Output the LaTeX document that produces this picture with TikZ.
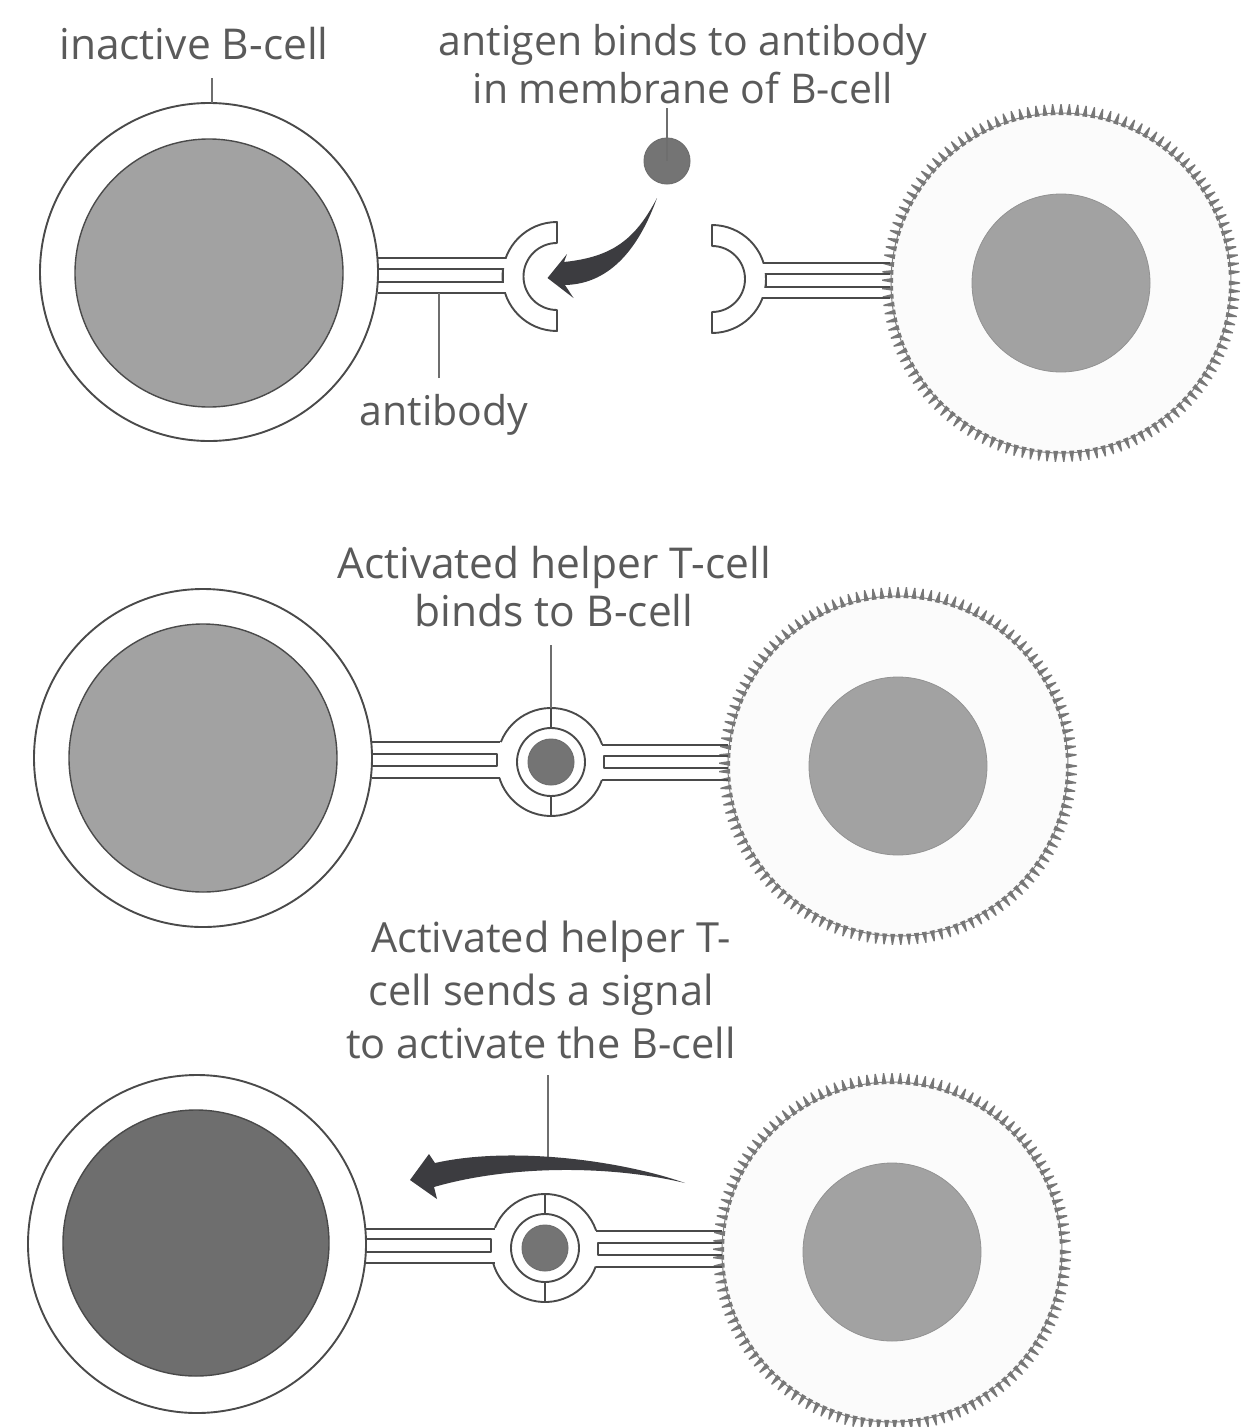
\documentclass[tikz,border=0pt]{standalone}
\usepackage{fontspec}
\setmainfont{Open Sans}
\usetikzlibrary{calc}
\definecolor{ink}{HTML}{4A4A4A}
\definecolor{labelink}{HTML}{5A5A5A}
\definecolor{midgrey}{HTML}{A2A2A2}
\definecolor{darkgrey}{HTML}{6E6E6E}
\definecolor{antigen}{HTML}{747474}
\definecolor{arrowink}{HTML}{3C3C40}
\tikzset{
  wire/.style={draw=ink,line width=1.9pt,line join=round},
  leader/.style={draw=ink!80,line width=1.4pt},
  disc/.style={circle,inner sep=0pt,outer sep=0pt,minimum size=#1},
  bmembrane/.style={disc=338,draw=ink,line width=1.9pt,fill=white},
  bnucleus/.style={disc=268,draw=ink,line width=1.4pt,fill=midgrey},
  anucleus/.style={disc=266,draw=ink,line width=1.4pt,fill=darkgrey},
  tbody/.style={disc=340,draw=ink!70,line width=1pt,fill=black!1.5},
  tnucleus/.style={disc=178,draw=ink!60,line width=.8pt,fill=midgrey},
  antigenball/.style={disc=46,draw=ink!80,line width=1pt,fill=antigen},
  caption/.style={text=labelink,font=\fontsize{41}{48}\selectfont,align=center,inner sep=0pt},
  fatarrow/.style={fill=arrowink,draw=none},
  spike/.style={fill=ink!75,draw=none}
}
% Ring of small surface spikes around a T-cell body
\newcommand{\spikering}[1]{%
  \begin{scope}[shift={(#1.center)}]
    \foreach \a in {0,2.7,...,357.4}{
      \fill[spike] ({\a-0.85}:168) -- ({\a-0.2}:179) -- ({\a+0.2}:179) -- ({\a+0.85}:168) -- cycle;
    }
  \end{scope}}
% Antibody stem: outer rails run from x1 to xo, inner rails from x1 to a closing bar at x2
\newcommand{\stem}[7]{%
  \draw[wire] (#1,#4) -- (#3,#4);
  \draw[wire] (#1,#5) -- (#2,#5) -- (#2,#6) -- (#1,#6);
  \draw[wire] (#1,#7) -- (#3,#7);}
\begin{document}
\begin{tikzpicture}[x=1pt,y=-1pt]
\useasboundingbox[fill=white] (0,0) rectangle (1245,1427);

% --- Top row: antigen approaching the antibody ---
\node[tbody] (t1) at (1061,283) {};
\spikering{t1}
\node[tnucleus] (tn1) at (1061,283) {};
\node[bmembrane] (b1) at (209,272) {};
\node[bnucleus] (bn1) at (209,273) {};
\draw[wire,fill=white] (557,222) arc[start angle=-90,end angle=-270,radius=54.5]
  -- (557,310) arc[start angle=90,end angle=270,radius=33.5] -- cycle;
\fill[white] (497,259.2) rectangle (509,267.8) (497,283.2) rectangle (509,291.8);
\stem{378}{503}{506}{258}{269}{282}{293}
\draw[wire,fill=white] (712,225) arc[start angle=-90,end angle=90,radius=54]
  -- (712,312) arc[start angle=90,end angle=-90,radius=33] -- cycle;
\fill[white] (760,264.2) rectangle (771,272.8) (760,288.2) rectangle (771,296.8);
\stem{890}{766}{763}{263}{274}{287}{298}
\node[caption,font=\fontsize{42.5}{48}\selectfont] (lab1) at (194,44) {inactive B-cell};
\coordinate (lab1foot) at (212,78);
\draw[leader] (lab1foot) -- (lab1foot |- b1.north);
\node[caption] (lab2) at (683,64) {antigen binds to antibody\\in membrane of B-cell};
\node[antigenball] (ag1) at (667,161) {};
\coordinate (lab2foot) at (667,108);
\draw[leader] (lab2foot) -- (ag1.center);
\node[caption] (lab3) at (444,415) {antibody};
\coordinate (lab3foot) at (439,378);
\coordinate (lab3top) at (439,293);
\draw[leader] (lab3foot) -- (lab3top);
\fill[fatarrow] (657,198) .. controls (635,240) and (612,257) .. (564,262)
  -- (567,254) -- (547.5,278) -- (573.5,298) -- (565,285)
  .. controls (612,284) and (640,245) .. (657,198) -- cycle;

% --- Middle row: helper T-cell bound to the B-cell ---
\node[tbody] (t2) at (898,766) {};
\spikering{t2}
\node[tnucleus] (tn2) at (898,766) {};
\node[bmembrane] (b2) at (203,758) {};
\node[bnucleus] (bn2) at (203,758) {};
\coordinate (c2) at (551,762);
\stem{372}{497}{500}{742}{754}{766}{778}
\stem{728}{604}{602}{745}{756}{768}{780}
\draw[wire] ($(c2)+(-158.3:54)$) arc[start angle=-158.3,end angle=-19,radius=54];
\draw[wire] ($(c2)+(19.5:54)$) arc[start angle=19.5,end angle=162.8,radius=54];
\node[disc=68,draw=ink,line width=1.9pt,fill=white] (ring2) at (c2) {};
\node[antigenball] (ag2) at (c2) {};
\draw[wire] (551,708) -- (ring2.north);
\draw[wire] (ring2.south) -- (551,816);
\node[caption,font=\fontsize{42.5}{48}\selectfont] (lab4) at (554,587) {Activated helper T-cell\\binds to B-cell};
\coordinate (lab4foot) at (551,645);
\draw[leader] (lab4foot) -- (551,708);

% --- Bottom row: signal sent to the B-cell ---
\node[tbody] (t3) at (892,1252) {};
\spikering{t3}
\node[tnucleus] (tn3) at (892,1252) {};
\node[bmembrane] (b3) at (197,1244) {};
\node[anucleus] (bn3) at (196,1243) {};
\coordinate (c3) at (545,1248);
\stem{365}{491}{494.5}{1229}{1239}{1252}{1263}
\stem{722}{598}{595.5}{1231}{1243}{1255}{1267}
\draw[wire] ($(c3)+(-158:54)$) arc[start angle=-158,end angle=-19,radius=54];
\draw[wire] ($(c3)+(20:54)$) arc[start angle=20,end angle=164,radius=54];
\node[disc=68,draw=ink,line width=1.9pt,fill=white] (ring3) at (c3) {};
\node[antigenball] (ag3) at (c3) {};
\draw[wire] (545,1194) -- (ring3.north);
\draw[wire] (ring3.south) -- (545,1302);
\node[caption,font=\fontsize{41.5}{53}\selectfont] (lab5) at (541,990) {\hspace*{20pt}Activated helper T-\\cell sends a signal\\to activate the B-cell};
\coordinate (lab5foot) at (548,1075);
\coordinate (lab5tip) at (548,1160);
\draw[leader] (lab5foot) -- (lab5tip);
\fill[fatarrow] (685,1183) .. controls (620,1160) and (510,1146) .. (435,1163)
  -- (429,1154) -- (410,1180) -- (437,1199) -- (434,1187)
  .. controls (510,1165) and (610,1165) .. (685,1183) -- cycle;
\end{tikzpicture}
\end{document}
